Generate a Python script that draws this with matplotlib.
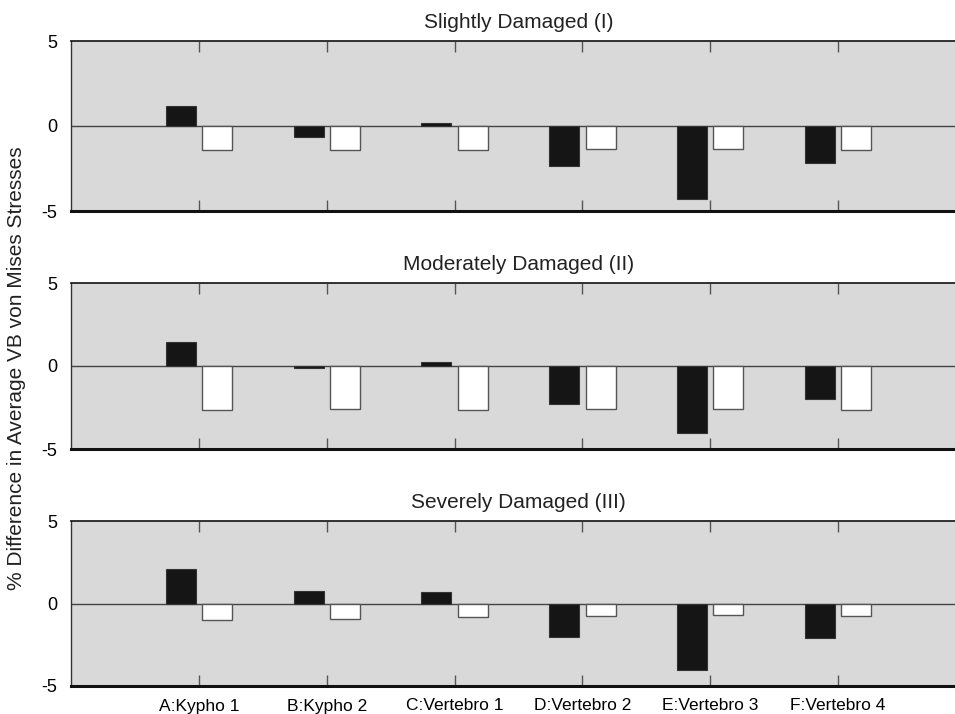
import matplotlib
matplotlib.use("Agg")
import matplotlib.pyplot as plt
import numpy as np

plt.rcParams['font.family'] = ['Liberation Sans', 'DejaVu Sans']

# categories along x
categories = ['A:Kypho 1', 'B:Kypho 2', 'C:Vertebro 1', 'D:Vertebro 2',
              'E:Vertebro 3', 'F:Vertebro 4']
panel_titles = ['Slightly Damaged (I)', 'Moderately Damaged (II)',
                'Severely Damaged (III)']

# black bars (first series) per damage level
black_I = [1.2, -0.63, 0.16, -2.35, -4.27, -2.16]
black_II = [1.43, -0.1, 0.22, -2.28, -4.05, -2.0]
black_III = [2.09, 0.77, 0.69, -2.02, -4.01, -2.09]

# white bars (second series) per damage level
white_I = [-1.41, -1.41, -1.41, -1.33, -1.33, -1.41]
white_II = [-2.66, -2.6, -2.66, -2.6, -2.6, -2.66]
white_III = [-0.97, -0.91, -0.83, -0.75, -0.69, -0.75]

yticks = [-5, 0, 5]

black_sets = [black_I, black_II, black_III]
white_sets = [white_I, white_II, white_III]

W, H = 955, 714
fig = plt.figure(figsize=(W / 100, H / 100), dpi=100)

# pixel boxes of each panel (top, bottom)
boxes = [(41, 211), (283, 449), (521, 686)]
left_px, right_px = 71, 966

x = np.arange(1, len(categories) + 1)
bw = 0.235
off = 0.142

for k in range(3):
    top, bot = boxes[k]
    ax = fig.add_axes([left_px / W, 1 - bot / H, (right_px - left_px) / W, (bot - top) / H])
    ax.set_facecolor('#d9d9d9')
    ax.bar(x - off, black_sets[k], width=bw, color='#151515', edgecolor='#333333',
           linewidth=0.8, zorder=3)
    ax.bar(x + off, white_sets[k], width=bw, color='white', edgecolor='#555555',
           linewidth=1.0, zorder=3)
    ax.axhline(0, color='#444444', linewidth=1.0, zorder=2)
    ax.set_xlim(0, 7)
    ax.set_ylim(-5, 5)
    ax.set_yticks(yticks)
    ax.set_yticklabels([str(v) for v in yticks], fontsize=13)
    ax.tick_params(axis='y', length=0, pad=10)
    ax.set_xticks(x)
    ax.tick_params(axis='x', direction='in', length=8, width=1, color='#555555',
                   top=True, bottom=True, pad=9, labelsize=12.5)
    if k < 2:
        ax.set_xticklabels([])
    else:
        ax.set_xticklabels(categories)
    ax.spines['right'].set_visible(False)
    ax.spines['top'].set_linewidth(1.3)
    ax.spines['top'].set_color('#222222')
    ax.spines['bottom'].set_linewidth(2.2)
    ax.spines['bottom'].set_color('#111111')
    ax.spines['left'].set_linewidth(1.0)
    ax.spines['left'].set_color('#333333')
    ax.set_title(panel_titles[k], fontsize=15, pad=9, color='#222222')

fig.text(17 / W, 0.485, '% Difference in Average VB von Mises Stresses', rotation=90,
         ha='center', va='center', fontsize=15, color='#222222')

fig.savefig('out.png', dpi=100)
